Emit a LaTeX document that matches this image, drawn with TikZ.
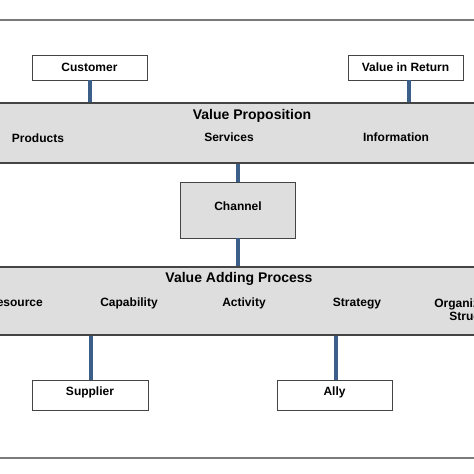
\documentclass[tikz,border=0pt]{standalone}
\usepackage{fontspec}
\setmainfont{Liberation Sans}
\definecolor{linkblue}{HTML}{3C5F8A}
\definecolor{bandfill}{HTML}{DEDEDE}
\definecolor{edgegray}{HTML}{444444}
\definecolor{rulegray}{HTML}{7A7A7A}
\begin{document}
\begin{tikzpicture}[x=1pt,y=-1pt,
  whitebox/.style={draw=edgegray,line width=0.9pt,fill=white,minimum width=115pt,minimum height=25pt,inner sep=0pt},
  graybox/.style={draw=edgegray,line width=0.9pt,fill=bandfill,minimum width=115pt,minimum height=56pt,inner sep=0pt},
  band/.style={draw=edgegray,line width=1.1pt,fill=bandfill,minimum width=500pt,inner sep=0pt},
  lbl/.style={font=\fontsize{12}{13}\selectfont\bfseries,text height=1.5ex,text depth=.25ex,inner sep=0pt,align=center},
  ttl/.style={font=\fontsize{14}{15}\selectfont\bfseries,text height=1.5ex,text depth=.25ex,inner sep=0pt},
  link/.style={draw=linkblue,line width=4pt},
  hrule/.style={draw=rulegray,line width=1.4pt}]
\useasboundingbox (0,0) rectangle (474,474);
\coordinate (tl) at (-5,20); \coordinate (tr) at (479,20);
\coordinate (bl) at (-5,458); \coordinate (br) at (479,458);
\draw[hrule] (tl) -- (tr);
\draw[hrule] (bl) -- (br);
% bands
\node[band,minimum height=60pt] (vp) at (237,133) {};
\node[band,minimum height=68pt] (vap) at (237,301) {};
% boxes
\node[whitebox] (customer) at (89.5,67.5) {};
\node[lbl] (customerT) at (89.5,68) {Customer};
\node[whitebox] (valret) at (405.5,67.5) {};
\node[lbl] (valretT) at (405.5,68) {Value in Return};
\node[graybox] (channel) at (238,210) {};
\node[lbl] (channelT) at (238,207.5) {Channel};
\node[whitebox,minimum height=30pt,minimum width=116pt] (supplier) at (90,395) {};
\node[lbl] (supplierT) at (90,392.5) {Supplier};
\node[whitebox,minimum height=30pt] (ally) at (334.5,395) {};
\node[lbl] (allyT) at (334.5,392.5) {Ally};
% band texts
\node[ttl] (vpT) at (252,116.5) {Value Proposition};
\node[lbl] (products) at (38,139) {Products};
\node[lbl] (services) at (229,138.5) {Services};
\node[lbl] (information) at (396,138.5) {Information};
\node[ttl] (vapT) at (239,279.5) {Value Adding Process};
\node[lbl] (resource) at (15.5,303) {Resource};
\node[lbl] (capability) at (129,303) {Capability};
\node[lbl] (activity) at (244,303) {Activity};
\node[lbl] (strategy) at (357,303) {Strategy};
\node[lbl,text height=,text depth=] (orgstruct) at (476,309.5) {Organizational\\Structure};
% connectors
\draw[link] (customer.south) -- (customer.south |- vp.north);
\draw[link] ([xshift=3.5pt]valret.south) -- ([xshift=3.5pt]valret.south |- vp.north);
\draw[link] (channel.north |- vp.south) -- (channel.north);
\draw[link] (channel.south) -- (channel.south |- vap.north);
\draw[link] ([xshift=1pt]supplier.north |- vap.south) -- ([xshift=1pt]supplier.north);
\draw[link] ([xshift=1.5pt]ally.north |- vap.south) -- ([xshift=1.5pt]ally.north);
\end{tikzpicture}
\end{document}
